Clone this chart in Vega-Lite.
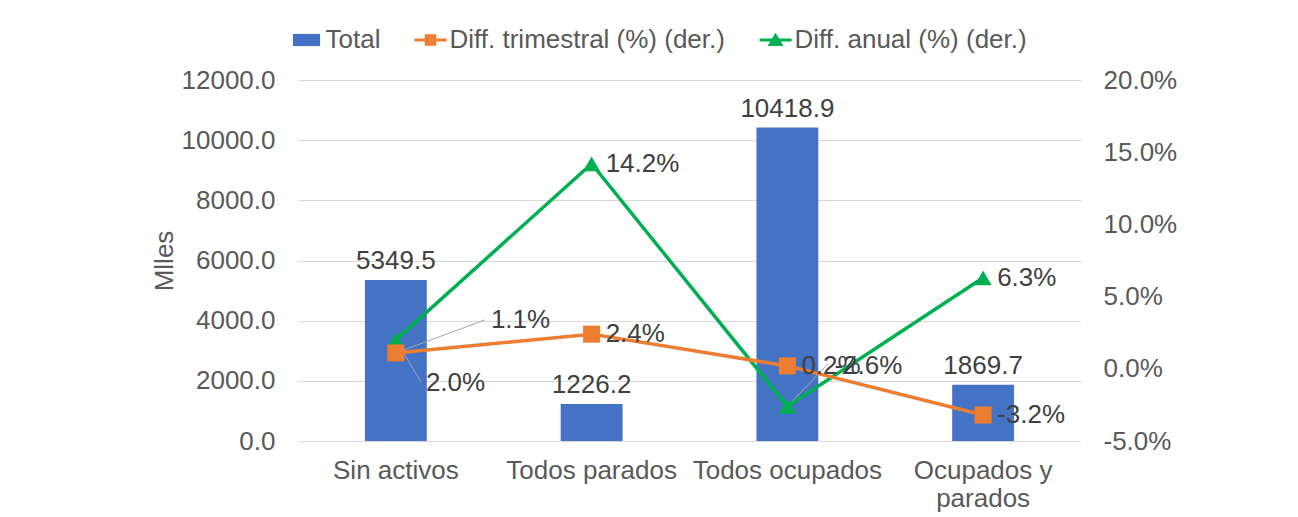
{
  "$schema": "https://vega.github.io/schema/vega-lite/v6.json",
  "width": 783,
  "height": 361,
  "autosize": {"type": "none"},
  "padding": {"left": 298, "top": 80, "right": 217, "bottom": 76},
  "background": "white",
  "config": {
    "font": "Liberation Sans",
    "view": {"stroke": null},
    "axis": {
      "labelFont": "Liberation Sans",
      "labelFontSize": 26,
      "labelColor": "#595959",
      "titleFont": "Liberation Sans",
      "titleFontSize": 26,
      "titleColor": "#595959",
      "titleFontWeight": "normal",
      "ticks": false,
      "tickSize": 0,
      "domain": false,
      "labelOverlap": false
    },
    "legend": {
      "orient": "none",
      "legendX": -7.5,
      "legendY": -56,
      "direction": "horizontal",
      "columns": 3,
      "symbolSize": 1024,
      "symbolStrokeWidth": 0,
      "labelFont": "Liberation Sans",
      "labelFontSize": 26,
      "labelColor": "#595959",
      "labelOffset": 3,
      "columnPadding": 34,
      "padding": 0,
      "labelLimit": 400
    }
  },
  "datasets": {
    "totales": [
      {"cat": "Sin activos", "serie": "Total", "valor": 5349.5},
      {"cat": "Todos parados", "serie": "Total", "valor": 1226.2},
      {"cat": "Todos ocupados", "serie": "Total", "valor": 10418.9},
      {"cat": "Ocupados y parados", "serie": "Total", "valor": 1869.7}
    ],
    "tasas": [
      {"cat": "Sin activos", "serie": "Diff. anual (%) (der.)", "valor": 0.020},
      {"cat": "Todos parados", "serie": "Diff. anual (%) (der.)", "valor": 0.142},
      {"cat": "Todos ocupados", "serie": "Diff. anual (%) (der.)", "valor": -0.026},
      {"cat": "Ocupados y parados", "serie": "Diff. anual (%) (der.)", "valor": 0.063},
      {"cat": "Sin activos", "serie": "Diff. trimestral (%) (der.)", "valor": 0.011},
      {"cat": "Todos parados", "serie": "Diff. trimestral (%) (der.)", "valor": 0.024},
      {"cat": "Todos ocupados", "serie": "Diff. trimestral (%) (der.)", "valor": 0.002},
      {"cat": "Ocupados y parados", "serie": "Diff. trimestral (%) (der.)", "valor": -0.032}
    ]
  },
  "encoding": {
    "x": {
      "field": "cat",
      "type": "nominal",
      "sort": ["Sin activos", "Todos parados", "Todos ocupados", "Ocupados y parados"],
      "scale": {"paddingInner": 0.684, "paddingOuter": 0.342},
      "axis": {
        "title": null,
        "labelAngle": 0,
        "labelPadding": 16,
        "labelLimit": 400,
        "labelLineHeight": 28,
        "labelExpr": "datum.label === 'Ocupados y parados' ? ['Ocupados y', 'parados'] : datum.label"
      }
    }
  },
  "layer": [
    {
      "data": {"name": "totales"},
      "encoding": {
        "y": {
          "field": "valor",
          "type": "quantitative",
          "scale": {"domain": [0, 12000], "nice": false},
          "axis": {
            "title": "Mlles",
            "values": [0, 2000, 4000, 6000, 8000, 10000, 12000],
            "format": ".1f",
            "grid": true,
            "gridColor": "#d9d9d9",
            "gridWidth": 1,
            "labelPadding": 23,
            "titlePadding": 4
          }
        }
      },
      "layer": [
        {
          "mark": {"type": "bar"},
          "encoding": {
            "color": {
              "field": "serie",
              "type": "nominal",
              "scale": {
                "domain": ["Total", "Diff. trimestral (%) (der.)", "Diff. anual (%) (der.)"],
                "range": ["#4472C4", "#ED7D31", "#00B050"]
              },
              "legend": {
                "title": null,
                "encode": {
                  "symbols": {
                    "update": {
                      "shape": {"signal": "datum.value === 'Total' ? 'M-0.85,-0.38H0.85V0.38H-0.85Z' : datum.value === 'Diff. anual (%) (der.)' ? 'M-1,-0.09H1V0.09H-1Z M0,-0.45L0.5,0.38H-0.5Z' : 'M-1,-0.1H1V0.1H-1Z M-0.36,-0.36H0.36V0.36H-0.36Z'"},
                      "fill": {"signal": "datum.value === 'Total' ? '#4472C4' : datum.value === 'Diff. anual (%) (der.)' ? '#00B050' : '#ED7D31'"},
                      "stroke": {"value": "transparent"},
                      "strokeWidth": {"value": 0},
                      "size": {"value": 1024},
                      "opacity": {"value": 1}
                    }
                  }
                }
              }
            }
          }
        },
        {
          "mark": {"type": "text", "baseline": "alphabetic", "dy": -11, "fontSize": 26, "color": "#404040", "font": "Liberation Sans"},
          "encoding": {
            "text": {"field": "valor", "type": "quantitative", "format": ".1f"}
          }
        }
      ]
    },
    {
      "data": {"name": "tasas"},
      "transform": [{"calculate": "replace(format(datum.valor, '.1%'), '\u2212', '-')", "as": "etiqueta"}],
      "encoding": {
        "y": {
          "field": "valor",
          "type": "quantitative",
          "scale": {"domain": [-0.05, 0.2], "nice": false},
          "axis": {
            "orient": "right",
            "title": null,
            "values": [-0.05, 0, 0.05, 0.1, 0.15, 0.2],
            "format": ".1%",
            "labelExpr": "replace(datum.label, '\u2212', '-')",
            "grid": false,
            "labelPadding": 22
          }
        }
      },
      "layer": [
        {
          "transform": [{"filter": "datum.cat === 'Sin activos' && datum.serie === 'Diff. trimestral (%) (der.)'"}],
          "mark": {"type": "rule", "color": "#a6a6a6", "strokeWidth": 1, "x2Offset": 89, "y2Offset": -33},
          "encoding": {"x2": {"field": "cat"}, "y2": {"field": "valor"}}
        },
        {
          "transform": [{"filter": "datum.cat === 'Sin activos' && datum.serie === 'Diff. anual (%) (der.)'"}],
          "mark": {"type": "rule", "color": "#a6a6a6", "strokeWidth": 1, "x2Offset": 25, "y2Offset": 42},
          "encoding": {"x2": {"field": "cat"}, "y2": {"field": "valor"}}
        },
        {
          "transform": [{"filter": "datum.cat === 'Todos ocupados' && datum.serie === 'Diff. anual (%) (der.)'"}],
          "mark": {"type": "rule", "color": "#a6a6a6", "strokeWidth": 1, "x2Offset": 41, "y2Offset": -43},
          "encoding": {"x2": {"field": "cat"}, "y2": {"field": "valor"}}
        },
        {
          "mark": {"type": "line", "strokeWidth": 3.5},
          "encoding": {
            "color": {
              "field": "serie",
              "type": "nominal",
              "scale": {
                "domain": ["Total", "Diff. trimestral (%) (der.)", "Diff. anual (%) (der.)"],
                "range": ["#4472C4", "#ED7D31", "#00B050"]
              }
            }
          }
        },
        {
          "mark": {"type": "point", "filled": true, "size": 290, "opacity": 1},
          "encoding": {
            "color": {
              "field": "serie",
              "type": "nominal",
              "scale": {
                "domain": ["Total", "Diff. trimestral (%) (der.)", "Diff. anual (%) (der.)"],
                "range": ["#4472C4", "#ED7D31", "#00B050"]
              }
            },
            "shape": {
              "field": "serie",
              "type": "nominal",
              "scale": {
                "domain": ["Diff. trimestral (%) (der.)", "Diff. anual (%) (der.)"],
                "range": ["square", "triangle-up"]
              },
              "legend": null
            }
          }
        },
        {
          "transform": [{"filter": "!((datum.cat === 'Sin activos') || (datum.cat === 'Todos ocupados' && datum.serie === 'Diff. anual (%) (der.)'))"}],
          "mark": {"type": "text", "align": "left", "baseline": "middle", "dx": 14, "fontSize": 26, "color": "#404040", "font": "Liberation Sans"},
          "encoding": {"text": {"field": "etiqueta", "type": "nominal"}}
        },
        {
          "transform": [{"filter": "datum.cat === 'Sin activos' && datum.serie === 'Diff. trimestral (%) (der.)'"}],
          "mark": {"type": "text", "align": "left", "baseline": "middle", "dx": 95, "dy": -33, "fontSize": 26, "color": "#404040", "font": "Liberation Sans"},
          "encoding": {"text": {"field": "etiqueta", "type": "nominal"}}
        },
        {
          "transform": [{"filter": "datum.cat === 'Sin activos' && datum.serie === 'Diff. anual (%) (der.)'"}],
          "mark": {"type": "text", "align": "left", "baseline": "middle", "dx": 30, "dy": 43, "fontSize": 26, "color": "#404040", "font": "Liberation Sans"},
          "encoding": {"text": {"field": "etiqueta", "type": "nominal"}}
        },
        {
          "transform": [{"filter": "datum.cat === 'Todos ocupados' && datum.serie === 'Diff. anual (%) (der.)'"}],
          "mark": {"type": "text", "align": "left", "baseline": "middle", "dx": 47, "dy": -40, "fontSize": 26, "color": "#404040", "font": "Liberation Sans"},
          "encoding": {"text": {"field": "etiqueta", "type": "nominal"}}
        }
      ]
    }
  ],
  "resolve": {"scale": {"y": "independent"}}
}
